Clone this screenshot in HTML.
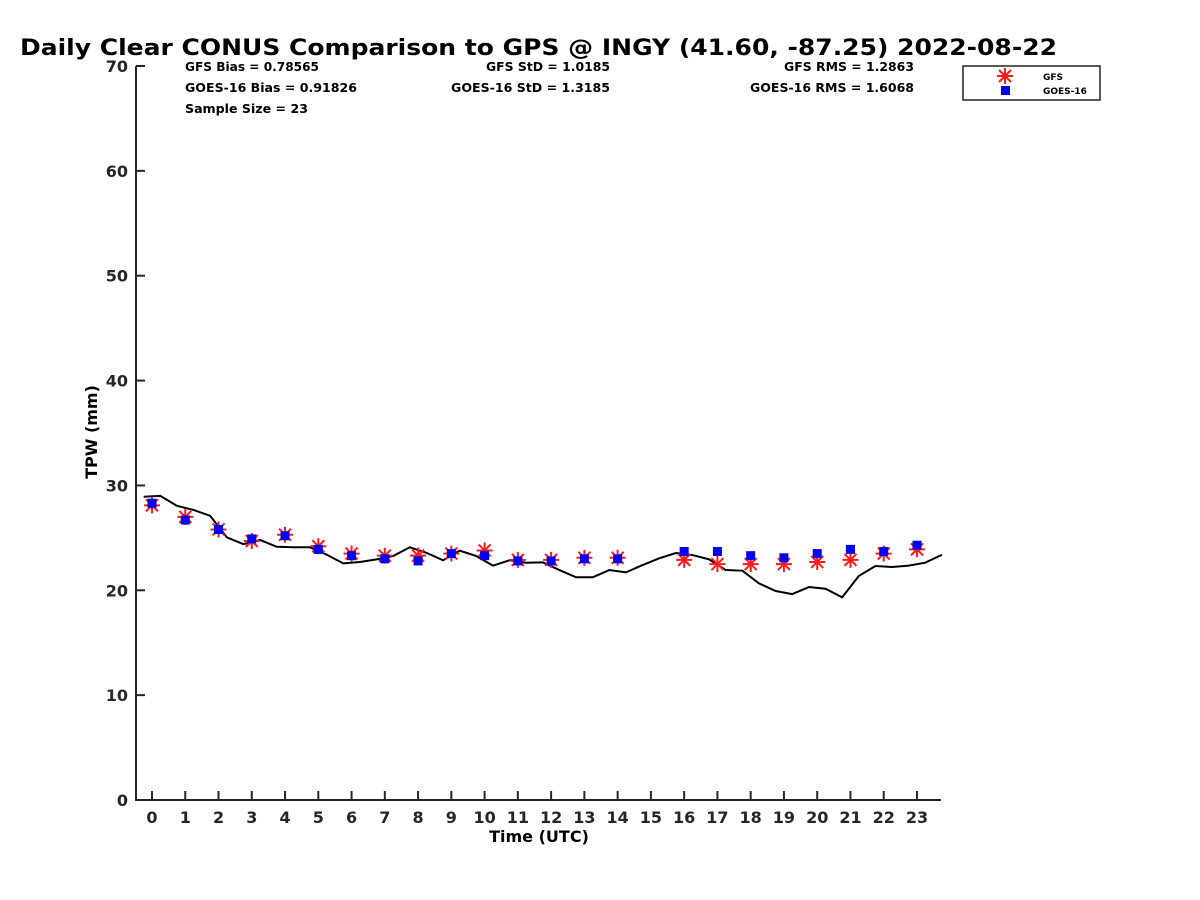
<!DOCTYPE html>
<html><head><meta charset="utf-8"><style>
body{margin:0;background:#fff;}
svg{display:block;font-family:"DejaVu Sans","Liberation Sans",sans-serif;font-weight:bold;}
</style></head><body>
<svg id="chart" width="1200" height="900">
<text x="20" y="55" font-size="22" textLength="1037" lengthAdjust="spacingAndGlyphs">Daily Clear CONUS Comparison to GPS @ INGY (41.60, -87.25) 2022-08-22</text>
<g font-size="12">
<text x="185" y="71" textLength="134" lengthAdjust="spacingAndGlyphs">GFS Bias = 0.78565</text>
<text x="185" y="92" textLength="172" lengthAdjust="spacingAndGlyphs">GOES-16 Bias = 0.91826</text>
<text x="185" y="113" textLength="123" lengthAdjust="spacingAndGlyphs">Sample Size = 23</text>
<text x="486" y="71" textLength="124" lengthAdjust="spacingAndGlyphs">GFS StD = 1.0185</text>
<text x="451" y="92" textLength="159" lengthAdjust="spacingAndGlyphs">GOES-16 StD = 1.3185</text>
<text x="784" y="71" textLength="130" lengthAdjust="spacingAndGlyphs">GFS RMS = 1.2863</text>
<text x="750" y="92" textLength="164" lengthAdjust="spacingAndGlyphs">GOES-16 RMS = 1.6068</text>
</g>
<g>
<rect x="963" y="66" width="137" height="34" fill="#fff" stroke="#222" stroke-width="1.5"/>
<g stroke="#ff1a1a" stroke-width="2">
<line x1="997" y1="76" x2="1013" y2="76"/><line x1="1005" y1="68" x2="1005" y2="84"/><line x1="999" y1="70" x2="1011" y2="82"/><line x1="1011" y1="70" x2="999" y2="82"/></g>
<rect x="1001" y="86" width="9" height="9" fill="#0000ee"/>
<text x="1043" y="80" font-size="9">GFS</text>
<text x="1043" y="94" font-size="9">GOES-16</text>
</g>
<text x="539" y="842" font-size="16" text-anchor="middle">Time (UTC)</text>
<text x="0" y="0" font-size="16" text-anchor="middle" transform="translate(97,432) rotate(-90)">TPW (mm)</text>
<g id="plot"></g>
</svg>
<script>
const lineTimes = [-0.25,0.25,0.75,1.25,1.75,2.25,2.75,3.25,3.75,4.25,4.75,5.25,5.75,6.25,6.75,7.25,7.75,8.25,8.75,9.25,9.75,10.25,10.75,11.25,11.75,12.25,12.75,13.25,13.75,14.25,14.75,15.25,15.75,16.25,16.75,17.25,17.75,18.25,18.75,19.25,19.75,20.25,20.75,21.25,21.75,22.25,22.75,23.25,23.75];
const gpsValues = [28.92,29.0,28.05,27.66,27.1,25.05,24.4,24.8,24.15,24.1,24.1,23.4,22.57,22.7,22.95,23.27,24.1,23.58,22.86,23.78,23.27,22.35,22.86,22.63,22.66,21.93,21.24,21.24,21.93,21.71,22.41,23.05,23.55,23.36,22.95,21.93,21.87,20.66,19.93,19.64,20.31,20.15,19.33,21.36,22.31,22.22,22.35,22.63,23.39];
const pointHours = [0,1,2,3,4,5,6,7,8,9,10,11,12,13,14,16,17,18,19,20,21,22,23];
const gfsValues = [28.1,27.0,25.8,24.7,25.3,24.2,23.5,23.3,23.3,23.5,23.8,22.9,22.9,23.1,23.1,22.9,22.5,22.5,22.5,22.7,22.9,23.5,23.9];
const goesValues = [28.3,26.7,25.8,24.9,25.2,23.9,23.3,23.0,22.8,23.5,23.3,22.8,22.8,23.0,23.0,23.7,23.7,23.3,23.1,23.5,23.9,23.7,24.3];
const yTicks = [0,10,20,30,40,50,60,70];
const xTicks = [0,1,2,3,4,5,6,7,8,9,10,11,12,13,14,15,16,17,18,19,20,21,22,23];

const NS="http://www.w3.org/2000/svg";
const plot=document.getElementById('plot');
const X=t=>152+t*33.26;
const Y=v=>800-v*(734/70);
function mk(tag,attrs,parent){const e=document.createElementNS(NS,tag);for(const k in attrs)e.setAttribute(k,attrs[k]);(parent||plot).appendChild(e);return e;}

const ax=mk('path',{d:'M136 66 L136 800 L941 800',fill:'none',stroke:'#262626','stroke-width':2});


yTicks.forEach(v=>{
  const tk=mk('line',{x1:136,x2:145,y1:Y(v),y2:Y(v),stroke:'#262626','stroke-width':2});
  
  
  const tl=mk('text',{x:128,y:Y(v)+6,'font-size':16,'text-anchor':'end',fill:'#262626'});
  tl.textContent=v;
  
  
});
xTicks.forEach(t=>{
  const tk=mk('line',{x1:X(t),x2:X(t),y1:800,y2:791,stroke:'#262626','stroke-width':2});
  
  
  const tl=mk('text',{x:X(t),y:823,'font-size':16,'text-anchor':'middle',fill:'#262626'});
  tl.textContent=t;
  
  
});
const gps=mk('polyline',{points:lineTimes.map((t,i)=>X(t)+','+Y(gpsValues[i])).join(' '),fill:'none',stroke:'#000','stroke-width':2});


pointHours.forEach((h,i)=>{
  const cx=X(h),cy=Y(gfsValues[i]);
  const g=mk('g',{stroke:'#ff1a1a','stroke-width':2});
  
  
  mk('line',{x1:cx-8,y1:cy,x2:cx+8,y2:cy},g);
  mk('line',{x1:cx,y1:cy-8,x2:cx,y2:cy+8},g);
  mk('line',{x1:cx-6,y1:cy-6,x2:cx+6,y2:cy+6},g);
  mk('line',{x1:cx+6,y1:cy-6,x2:cx-6,y2:cy+6},g);
});
pointHours.forEach((h,i)=>{
  const r=mk('rect',{x:X(h)-4.5,y:Y(goesValues[i])-4.5,width:9,height:9,fill:'#0000ee'});
  
  
});
</script>
</body></html>
